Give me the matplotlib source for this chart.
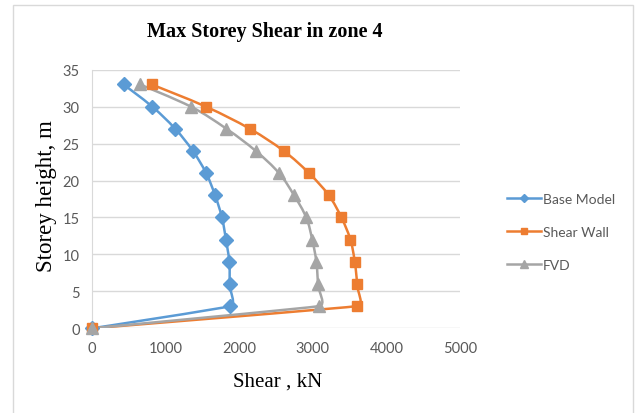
import numpy as np
import matplotlib
matplotlib.use("Agg")
import matplotlib.pyplot as plt
from matplotlib.path import Path
from matplotlib.patches import PathPatch, Rectangle
from matplotlib.lines import Line2D

# storey heights (m) and max storey shear (kN) for each model
heights = [0, 3, 6, 9, 12, 15, 18, 21, 24, 27, 30, 33]
base_model = [0, 1870, 1870, 1865, 1820, 1765, 1672, 1550, 1370, 1130, 818, 428]
shear_wall = [0, 3600, 3600, 3570, 3510, 3388, 3216, 2948, 2605, 2144, 1547, 810]
fvd = [0, 3084, 3070, 3048, 2992, 2910, 2745, 2541, 2225, 1827, 1343, 651]

series_names = ["Base Model", "Shear Wall", "FVD"]
series_colors = ["#5B9BD5", "#ED7D31", "#A5A5A5"]
series_markers = ["D", "s", "^"]
marker_sizes = [7, 7, 8]

x_ticks = [0, 1000, 2000, 3000, 4000, 5000]
y_ticks = [0, 5, 10, 15, 20, 25, 30, 35]


def smooth_path(ax, xs, ys, tension=0.4):
    # smoothed line: cubic bezier segments built in pixel space,
    # handle length limited by the shorter neighbouring segment
    pts = ax.transData.transform(np.column_stack([xs, ys]))
    n = len(pts)
    verts = [pts[0]]
    codes = [Path.MOVETO]
    for i in range(n - 1):
        p0 = pts[max(i - 1, 0)]
        p1 = pts[i]
        p2 = pts[i + 1]
        p3 = pts[min(i + 2, n - 1)]
        d01 = np.hypot(*(p1 - p0))
        d12 = np.hypot(*(p2 - p1))
        d23 = np.hypot(*(p3 - p2))
        c1 = p1 + tension * (p2 - p0) * min(d01, d12) / max(d01 + d12, 1e-9)
        c2 = p2 - tension * (p3 - p1) * min(d12, d23) / max(d12 + d23, 1e-9)
        verts += [c1, c2, p2]
        codes += [Path.CURVE4] * 3
    verts = ax.transData.inverted().transform(np.array(verts))
    return Path(verts, codes)


fig = plt.figure(figsize=(6.36, 4.14), dpi=100)
ax = fig.add_axes([92 / 636, 1 - 329.3 / 414, 368 / 636, 258.6 / 414])

ax.set_xlim(0, 5000)
ax.set_ylim(0, 35)
ax.set_xticks(x_ticks)
ax.set_yticks(y_ticks)
ax.grid(axis="y", color="#D9D9D9", lw=1)
ax.set_axisbelow(True)
for side in ["top", "right", "bottom"]:
    ax.spines[side].set_visible(False)
ax.spines["left"].set_color("#D9D9D9")
ax.tick_params(length=0, labelsize=10.5, labelcolor="#595959", pad=9)
for lbl in ax.get_xticklabels() + ax.get_yticklabels():
    lbl.set_family("Lato")

all_values = [base_model, shear_wall, fvd]
handles = []
for vals, name, col, mk, ms in zip(all_values, series_names, series_colors,
                                   series_markers, marker_sizes):
    ax.add_patch(PathPatch(smooth_path(ax, vals, heights), facecolor="none",
                           edgecolor=col, lw=1.8, zorder=3))
    ax.plot(vals, heights, ls="none", marker=mk, ms=ms, color=col, zorder=4,
            clip_on=False)
    handles.append(Line2D([], [], color=col, lw=1.8, marker=mk,
                          ms=ms - 2.5, label=name))

leg = fig.legend(handles=handles, loc="center left",
                 bbox_to_anchor=(494 / 636, 1 - 233 / 414), frameon=False,
                 prop={"family": "Lato", "size": 10}, labelcolor="#595959",
                 handlelength=2.5, handletextpad=0.1, labelspacing=1.5)

fig.text(265 / 636, 1 - 32 / 414, "Max Storey Shear in zone 4",
         family="Liberation Serif", weight="bold", size=14.5,
         ha="center", va="center")
fig.text(278 / 636, 1 - 382 / 414, "Shear , kN", family="Liberation Serif",
         size=15, ha="center", va="center")
fig.text(47 / 636, 1 - 196 / 414, "Storey height, m", family="Liberation Serif",
         size=16.5, ha="center", va="center", rotation=90)

# chart frame
fig.patches.append(Rectangle((13 / 636, -0.05), 620 / 636, 1.05 - 6 / 414,
                             transform=fig.transFigure, fill=False,
                             edgecolor="#D9D9D9", lw=1))

fig.savefig("out.png", dpi=100)
